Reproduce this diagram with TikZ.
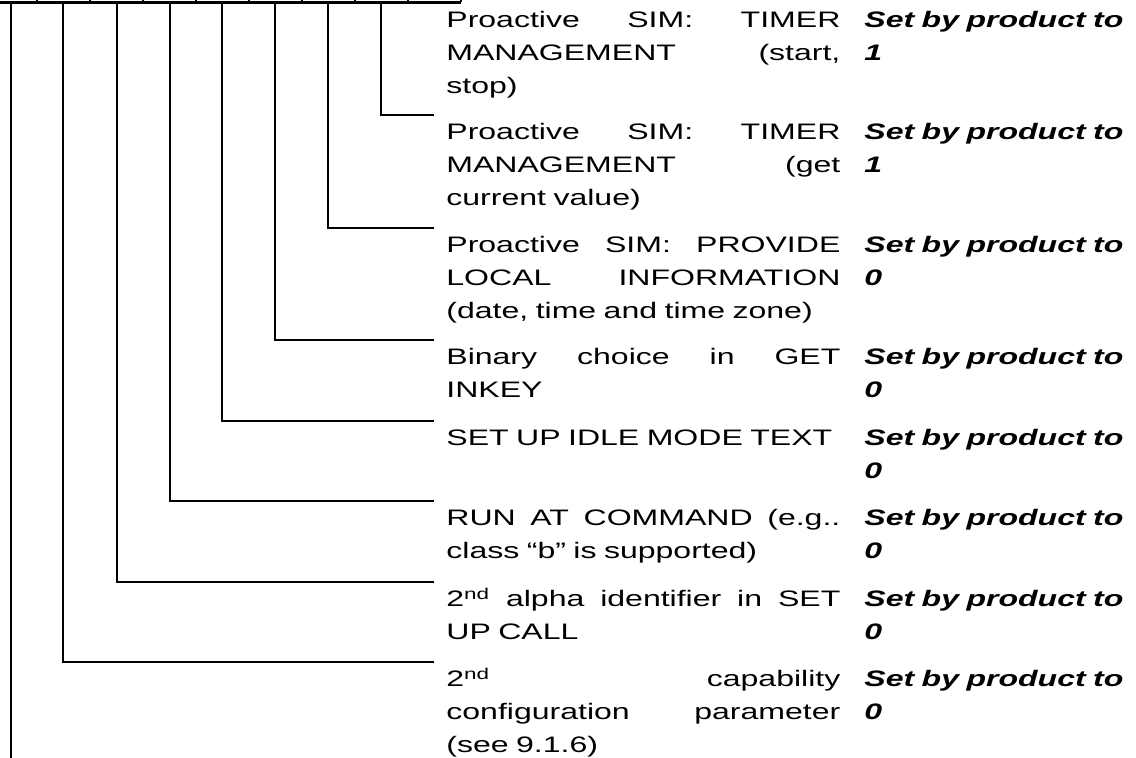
\documentclass[tikz,border=0pt]{standalone}
\usepackage{fontspec}
\setmainfont{Liberation Sans}[FakeStretch=1.43]
\usepackage{tikz}
\usetikzlibrary{positioning}
\tikzset{
  bitline/.style = {line width=1.35pt},
  desc/.style = {anchor=base west, text width=197pt, inner xsep=6pt, inner ysep=0pt,
                 align=left, font=\fontsize{11.2pt}{16.5pt}\selectfont},
  val/.style = {anchor=base west, text width=140pt, inner sep=0pt,
                align=left, font=\fontsize{11.2pt}{16.5pt}\selectfont\bfseries\itshape}
}

\begin{document}
\begin{tikzpicture}[x=0.5pt, y=-0.5pt]
    \useasboundingbox (0,0) rectangle (1136,758);
    % register cells above
    \draw [bitline] (0,2.5) -- (461,2.5);
    \foreach \x in {37,90,...,461}
      \draw [bitline] (\x,0) -- (\x,2.5);
    % bit lines
    \coordinate (b0) at (11,2.5);
    \coordinate (b1) at (63,2.5);
    \coordinate (b2) at (117,2.5);
    \coordinate (b3) at (170,2.5);
    \coordinate (b4) at (222,2.5);
    \coordinate (b5) at (275,2.5);
    \coordinate (b6) at (328,2.5);
    \coordinate (b7) at (381,2.5);
    \coordinate (e7) at (434,115);
    \coordinate (e6) at (434,228);
    \coordinate (e5) at (434,340);
    \coordinate (e4) at (434,421);
    \coordinate (e3) at (434,501);
    \coordinate (e2) at (434,582);
    \coordinate (e1) at (434,662);
    \coordinate (e0) at (11,758);
    % descriptions
    \node [desc] (d8) at (434,28) {Proactive\hfill SIM:\hfill TIMER\\ MANAGEMENT\hfill (start,\\ stop)};
    \node [val] (v8) at (864,28) {Set by product to\\ 1};
    \node [desc] (d7) at (434,140) {Proactive\hfill SIM:\hfill TIMER\\ MANAGEMENT\hfill (get\\ current value)};
    \node [val] (v7) at (864,140) {Set by product to\\ 1};
    \node [desc] (d6) at (434,253) {Proactive\hfill SIM:\hfill PROVIDE\\ LOCAL\hfill INFORMATION\\ (date, time and time zone)};
    \node [val] (v6) at (864,253) {Set by product to\\ 0};
    \node [desc] (d5) at (434,365) {Binary\hfill choice\hfill in\hfill GET\\ INKEY};
    \node [val] (v5) at (864,365) {Set by product to\\ 0};
    \node [desc] (d4) at (434,446) {SET UP IDLE MODE TEXT};
    \node [val] (v4) at (864,446) {Set by product to\\ 0};
    \node [desc] (d3) at (434,526) {RUN\hfill AT\hfill COMMAND\hfill (e.g..\\ class “b” is supported)};
    \node [val] (v3) at (864,526) {Set by product to\\ 0};
    \node [desc] (d2) at (434,607) {2\textsuperscript{nd}\hfill alpha\hfill identifier\hfill in\hfill SET\\ UP CALL};
    \node [val] (v2) at (864,607) {Set by product to\\ 0};
    \node [desc] (d1) at (434,687) {2\textsuperscript{nd}\hfill capability\\ configuration\hfill parameter\\ (see 9.1.6)};
    \node [val] (v1) at (864,687) {Set by product to\\ 0};
    % elbows
    \draw [bitline] (b7) |- (e7);
    \draw [bitline] (b6) |- (e6);
    \draw [bitline] (b5) |- (e5);
    \draw [bitline] (b4) |- (e4);
    \draw [bitline] (b3) |- (e3);
    \draw [bitline] (b2) |- (e2);
    \draw [bitline] (b1) |- (e1);
    \draw [bitline] (b0) -- (e0);
\end{tikzpicture}
\end{document}
